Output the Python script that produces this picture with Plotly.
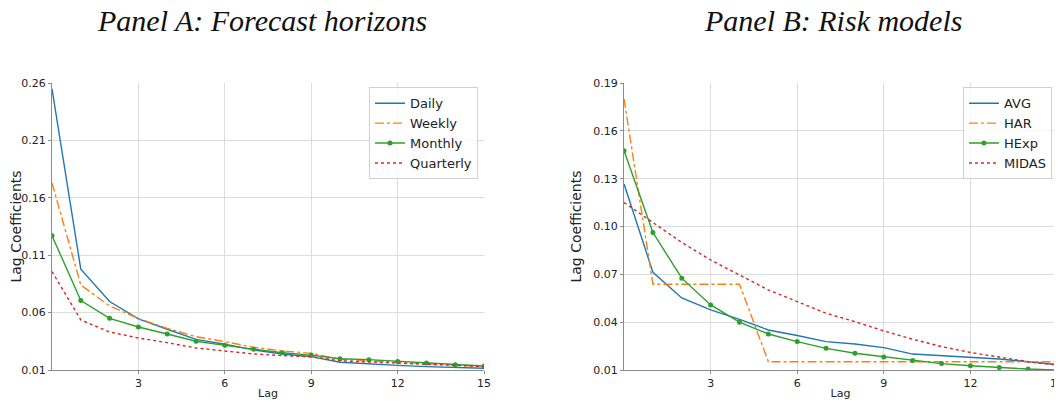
import plotly.graph_objects as go

lags = list(range(16))

# Panel A: forecast horizons
daily = [0.255, 0.0978, 0.0696, 0.0545, 0.0455, 0.0367, 0.0324, 0.0275, 0.024, 0.0216,
         0.0167, 0.0152, 0.014, 0.0129, 0.012, 0.0115]
weekly = [0.173, 0.084, 0.0658, 0.0548, 0.0463, 0.039, 0.0347, 0.0298, 0.0266, 0.0245,
          0.0193, 0.018, 0.0167, 0.015, 0.0138, 0.013]
monthly = [0.127, 0.0705, 0.055, 0.0475, 0.0414, 0.035, 0.0315, 0.028, 0.025, 0.023,
           0.0198, 0.019, 0.0175, 0.016, 0.0146, 0.0135]
quarterly = [0.0958, 0.0536, 0.0431, 0.0379, 0.0338, 0.0292, 0.0266, 0.024, 0.0225, 0.0216,
             0.018, 0.017, 0.016, 0.0146, 0.0138, 0.013]

# Panel B: risk models
avg = [0.1266, 0.0713, 0.0552, 0.0477, 0.0418, 0.0351, 0.0316, 0.0278, 0.0263, 0.024,
       0.02, 0.019, 0.018, 0.0169, 0.0152, 0.0134]
har = [0.18, 0.0638, 0.0638, 0.0638, 0.0638, 0.0152, 0.0152, 0.0152, 0.0152, 0.0152,
       0.0152, 0.0152, 0.0152, 0.0152, 0.0152, 0.0152]
hexp = [0.1475, 0.0962, 0.0676, 0.0508, 0.04, 0.0326, 0.0278, 0.0236, 0.0205, 0.0182,
        0.0159, 0.014, 0.0127, 0.0115, 0.0106, 0.01]
midas = [0.115, 0.1025, 0.09, 0.079, 0.0696, 0.0602, 0.0529, 0.0456, 0.0403, 0.0345,
         0.0293, 0.0247, 0.021, 0.018, 0.0152, 0.0131]

x_ticks = [3, 6, 9, 12, 15]
yticks_a = [0.01, 0.06, 0.11, 0.16, 0.21, 0.26]
yticks_b = [0.01, 0.04, 0.07, 0.10, 0.13, 0.16, 0.19]

BLUE, ORANGE, GREEN, RED = "#1f77b4", "#ff7f0e", "#2ca02c", "#d62728"

fig = go.Figure()

def add(x, y, name, color, dash, xa, ya, leg, markers=False):
    fig.add_trace(go.Scatter(
        x=x, y=y, name=name, xaxis=xa, yaxis=ya, legend=leg,
        mode="lines+markers" if markers else "lines",
        line=dict(color=color, width=1.4, dash=dash),
        marker=dict(size=5, color=color),
    ))

add(lags, daily, "Daily", BLUE, "solid", "x", "y", "legend")
add(lags, weekly, "Weekly", ORANGE, "dashdot", "x", "y", "legend")
add(lags, monthly, "Monthly", GREEN, "solid", "x", "y", "legend", markers=True)
add(lags, quarterly, "Quarterly", RED, "dot", "x", "y", "legend")

add(lags, avg, "AVG", BLUE, "solid", "x2", "y2", "legend2")
add(lags, har, "HAR", ORANGE, "dashdot", "x2", "y2", "legend2")
add(lags, hexp, "HExp", GREEN, "solid", "x2", "y2", "legend2", markers=True)
add(lags, midas, "MIDAS", RED, "dot", "x2", "y2", "legend2")

axis_common = dict(
    showgrid=True, gridcolor="#dcdcdc", gridwidth=1,
    showline=True, linecolor="#8c8c8c", linewidth=1.2,
    ticks="outside", ticklen=3, tickcolor="#8c8c8c",
    tickfont=dict(family="DejaVu Sans", size=11, color="#222"),
    zeroline=False, automargin=False, ticklabeloverflow="allow",
)

xa_dom = [0, 0.4299]
xb_dom = [0.5692, 1.0]

xtitle = dict(text="Lag", font=dict(family="DejaVu Sans", size=11, color="#222"), standoff=0)
ytitle = dict(text="Lag Coefficients", font=dict(family="DejaVu Sans", size=14, color="#222"), standoff=8)

# page body has an 8px margin; figure is sized to fill the remaining window
fig.update_layout(
    width=1054, height=394,
    paper_bgcolor="white", plot_bgcolor="white",
    margin=dict(l=44, r=5, t=75, b=32, autoexpand=False),
    xaxis=dict(domain=xa_dom, range=[0, 15], tickvals=x_ticks, anchor="y",
               title=xtitle, **axis_common),
    yaxis=dict(domain=[0, 1], range=[0.01, 0.26], tickvals=yticks_a,
               ticktext=[f"{v:.2f}" for v in yticks_a], anchor="x",
               title=ytitle, **axis_common),
    xaxis2=dict(domain=xb_dom, range=[0, 15], tickvals=x_ticks, anchor="y2",
                title=xtitle, **axis_common),
    yaxis2=dict(domain=[0, 1], range=[0.01, 0.19], tickvals=yticks_b,
                ticktext=[f"{v:.2f}" for v in yticks_b], anchor="x2",
                title=ytitle, **axis_common),
    legend=dict(x=0.4239, y=0.985, xanchor="right", yanchor="top",
                bgcolor="rgba(255,255,255,0.8)", bordercolor="#d0d0d0", borderwidth=1,
                font=dict(family="DejaVu Sans", size=13, color="#222"), tracegroupgap=0,
                itemwidth=30),
    legend2=dict(x=0.995, y=0.985, xanchor="right", yanchor="top",
                 bgcolor="rgba(255,255,255,0.8)", bordercolor="#d0d0d0", borderwidth=1,
                 font=dict(family="DejaVu Sans", size=13, color="#222"), tracegroupgap=0,
                 itemwidth=30),
    annotations=[
        dict(text="<i>Panel A: Forecast horizons</i>", xref="paper", yref="paper",
             x=0.2085, y=1.0, yshift=63, xanchor="center", yanchor="middle", showarrow=False,
             font=dict(family="Liberation Serif", size=30, color="#111")),
        dict(text="<i>Panel B: Risk models</i>", xref="paper", yref="paper",
             x=0.7767, y=1.0, yshift=63, xanchor="center", yanchor="middle", showarrow=False,
             font=dict(family="Liberation Serif", size=30, color="#111")),
    ],
)

fig.write_html("out.html")
